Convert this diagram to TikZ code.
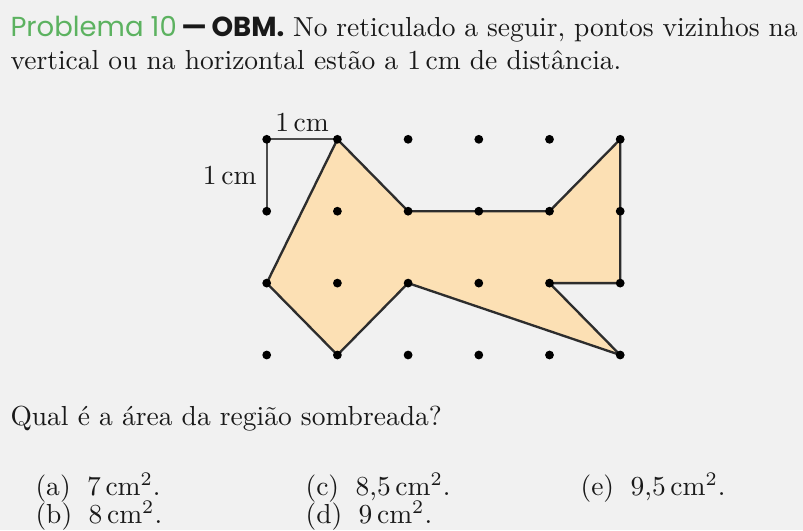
\documentclass[tikz,border=0pt]{standalone}
\usepackage{fontspec}
\usepackage{xcolor}
\usepackage{tikz}
\newfontfamily\headfont{Poppins}
\definecolor{bggray}{RGB}{241,241,241}
\definecolor{obmgreen}{RGB}{92,178,96}
\definecolor{shade}{RGB}{252,224,180}
\definecolor{edge}{RGB}{45,45,45}

\begin{document}
\begin{tikzpicture}[
  x=0.3636pt, y=-0.3636pt,
  dot/.style={
    circle,
    fill=black,
    inner sep=0pt,
    minimum size=3.2pt
  },
  txt/.style={
    anchor=base west,
    inner sep=0pt,
    text=black!90,
    font=\fontsize{10}{12}\selectfont
  },
  region/.style={
    fill=shade,
    draw=edge,
    line width=0.85pt,
    line join=round
  },
  ruler/.style={
    draw=black!70,
    line width=0.85pt
  }
]
% Background and page size
\fill[bggray] (0,0) rectangle (803,530);
\useasboundingbox (0,0) rectangle (803,530);

% Statement
\node[txt, text width=286.2pt, align=justify] (title) at (10,36)
  {{\headfont\color{obmgreen}Problema 10}\,{\headfont\bfseries —\,OBM.}\ No reticulado a seguir, pontos vizinhos na\linebreak vertical ou na horizontal estão a 1\,cm de distância.};

% Grid points
\foreach \c in {0,...,5}
  \foreach \r in {0,...,3}
    \coordinate (g-\c-\r) at ({266.7+70.7*\c},{139.3+71.9*\r});

% Shaded region
\filldraw[region] (g-1-0) -- (g-2-1) -- (g-3-1) -- (g-4-1) -- (g-5-0) -- (g-5-1)
  -- (g-5-2) -- (g-4-2) -- (g-5-3) -- (g-2-2) -- (g-1-3) -- (g-0-2) -- cycle;

% Unit marks
\draw[ruler] (g-0-1) -- (g-0-0) -- (g-1-0);
\node[txt, anchor=base] (unit-h) at (302,131) {1\,cm};
\node[txt, anchor=east] (unit-v) at (257,175.5) {1\,cm};

% Dots on top
\foreach \c in {0,...,5}
  \foreach \r in {0,...,3}
    \node[dot] (d-\c-\r) at (g-\c-\r) {};

% Question and choices
\node[txt] (question) at (10,425) {Qual é a área da região sombreada?};
\node[txt] (opt-a) at (35,495) {(a)\hspace{6pt}7\,cm$^2$.};
\node[txt] (opt-b) at (35,523) {(b)\hspace{6pt}8\,cm$^2$.};
\node[txt] (opt-c) at (305,495) {(c)\hspace{6pt}8,5\,cm$^2$.};
\node[txt] (opt-d) at (305,523) {(d)\hspace{6pt}9\,cm$^2$.};
\node[txt] (opt-e) at (580,495) {(e)\hspace{6pt}9,5\,cm$^2$.};
\end{tikzpicture}
\end{document}
